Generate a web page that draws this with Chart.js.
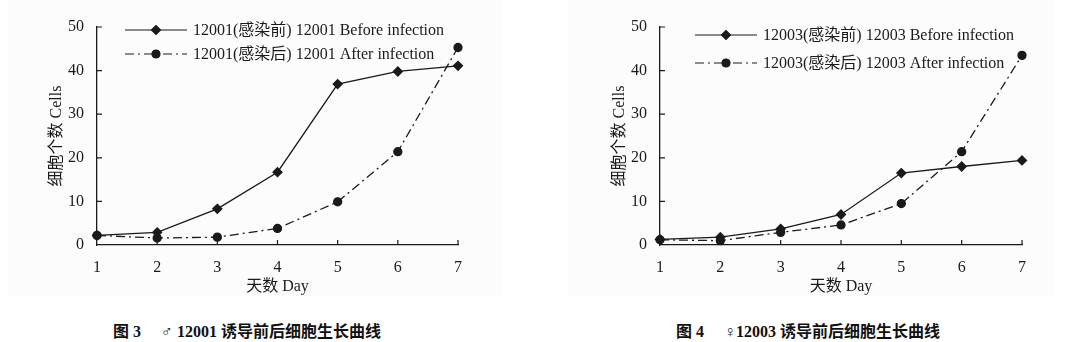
<!DOCTYPE html>
<html>
<head>
<meta charset="utf-8">
<script src="https://cdn.jsdelivr.net/npm/chart.js@4.4.0/dist/chart.umd.min.js"></script>
<style>
  body { margin: 0; background: #fff; width: 1086px; height: 342px; position: relative; overflow: hidden; }
  .panel { position: absolute; top: 0; height: 296px; background: #fcfcfc; }
  canvas { position: absolute; top: 0; }
  .cap { position: absolute; top: 318px; font: bold 16px 'Liberation Serif', 'Noto Sans CJK SC'; color: #111; white-space: pre; }
  .cap span { font-family: 'Noto Sans CJK SC'; font-weight: bold; }
</style>
</head>
<body>
<div class="panel" style="left:8px;width:495px"></div>
<div class="panel" style="left:568px;width:485px"></div>
<canvas id="c1" width="543" height="300" style="left:0"></canvas>
<canvas id="c2" width="543" height="300" style="left:543px"></canvas>
<div class="cap" style="left:113px"><span>图</span> 3     ♂ 12001 <span>诱导前后细胞生长曲线</span></div>
<div class="cap" style="left:676px"><span>图</span> 4     ♀12003 <span>诱导前后细胞生长曲线</span></div>
<script>
const days = ['1', '2', '3', '4', '5', '6', '7'];
const yTicks = [0, 10, 20, 30, 40, 50];

const before12001 = [2.2, 2.9, 8.3, 16.7, 36.9, 39.8, 41.1];
const after12001 = [2.2, 1.6, 1.8, 3.8, 9.9, 21.4, 45.3];
const before12003 = [1.3, 1.8, 3.7, 7.0, 16.5, 18.0, 19.4];
const after12003 = [1.2, 1.0, 2.9, 4.6, 9.5, 21.4, 43.5];

const FONT = "'Liberation Serif', 'Noto Sans CJK SC'";
const INK = '#1a1a1a';
const DASHDOT = [9, 4, 2, 4];

// inward tick marks + legend drawn inside the plot area
const inside = {
  id: 'inside',
  afterDraw(chart, args, opts) {
    const ctx = chart.ctx;
    const area = chart.chartArea;
    const xs = chart.scales.x, ys = chart.scales.y;
    ctx.save();
    ctx.strokeStyle = INK;
    ctx.lineWidth = 1.2;
    ctx.beginPath();
    days.forEach((d, i) => {
      if (i === 0) return;
      const px = xs.getPixelForValue(i);
      ctx.moveTo(px, area.bottom);
      ctx.lineTo(px, area.bottom - 5);
    });
    yTicks.forEach(v => {
      if (v === 0) return;
      const py = ys.getPixelForValue(v);
      ctx.moveTo(area.left, py);
      ctx.lineTo(area.left + 5, py);
    });
    ctx.stroke();

    // legend
    ctx.font = '16px ' + FONT;
    ctx.textBaseline = 'middle';
    ctx.fillStyle = INK;
    chart.data.datasets.forEach((ds, i) => {
      const x0 = area.left + opts.x;
      const y = area.top + opts.rows[i];
      ctx.setLineDash(ds.borderDash || []);
      ctx.beginPath();
      ctx.moveTo(x0, y);
      ctx.lineTo(x0 + 62, y);
      ctx.stroke();
      ctx.setLineDash([]);
      Chart.helpers.drawPoint(ctx, {
        pointStyle: ds.pointStyle, radius: ds.pointRadius, rotation: 0, borderWidth: 1
      }, x0 + 31, y);
      ctx.fill();
      ctx.fillText(ds.label, x0 + 68, y + 1);
    });
    ctx.restore();
  }
};

function makeChart(id, before, after, names, lay) {
  new Chart(document.getElementById(id), {
    type: 'line',
    data: {
      labels: days,
      datasets: [
        {
          label: names[0],
          data: before,
          borderColor: INK,
          backgroundColor: INK,
          borderWidth: 1.3,
          pointStyle: 'rectRot',
          pointRadius: 4.5,
          pointBackgroundColor: INK,
          tension: 0,
          clip: false
        },
        {
          label: names[1],
          data: after,
          borderColor: INK,
          backgroundColor: INK,
          borderWidth: 1.3,
          borderDash: DASHDOT,
          pointStyle: 'circle',
          pointRadius: 4,
          pointBackgroundColor: INK,
          tension: 0,
          clip: false
        }
      ]
    },
    options: {
      responsive: false,
      animation: false,
      layout: { padding: { left: lay.padLeft, top: 27, right: lay.padRight, bottom: 0 } },
      plugins: {
        legend: { display: false },
        tooltip: { enabled: false },
        inside: { x: lay.legX, rows: lay.legRows }
      },
      scales: {
        x: {
          offset: false,
          grid: { display: false },
          border: { display: true, color: INK, width: 1.3 },
          ticks: { color: INK, padding: 5, font: { family: FONT, size: 16 }, maxRotation: 0 },
          title: { display: true, text: '天数 Day', color: INK, padding: 4, font: { family: FONT, size: 16 } },
          afterFit(s) { s.height = 55; }
        },
        y: {
          min: 0,
          max: 50,
          grid: { display: false },
          border: { display: true, color: INK, width: 1.3 },
          afterBuildTicks(s) { s.ticks = yTicks.map(v => ({ value: v })); },
          ticks: { color: INK, padding: 5, font: { family: FONT, size: 16 } },
          title: { display: true, text: '细胞个数 Cells', color: INK, padding: 7, font: { family: FONT, size: 16 } },
          afterFit(s) { s.width = 57; }
        }
      }
    },
    plugins: [inside]
  });
}

makeChart('c1', before12001, after12001,
  ['12001(感染前) 12001 Before infection', '12001(感染后) 12001 After infection'],
  { padLeft: 40, padRight: 85, legX: 28, legRows: [3, 27] });

makeChart('c2', before12003, after12003,
  ['12003(感染前) 12003 Before infection', '12003(感染后) 12003 After infection'],
  { padLeft: 60, padRight: 64, legX: 35, legRows: [8, 36] });
</script>
</body>
</html>
